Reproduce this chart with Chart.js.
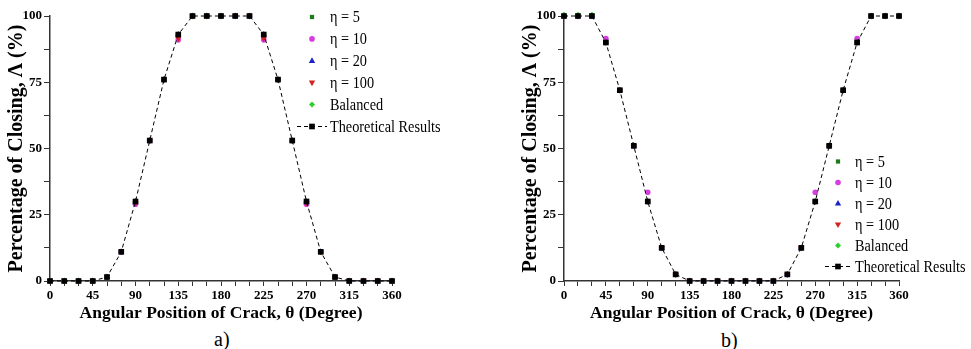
<!DOCTYPE html>
<html>
<head>
<meta charset="utf-8">
<script src="https://cdn.jsdelivr.net/npm/chart.js@4.4.1/dist/chart.umd.min.js"></script>
<style>
  html, body { margin: 0; padding: 0; background: #fff; }
  body { width: 971px; height: 349px; position: relative; overflow: hidden; }
  .panel { position: absolute; top: 0; height: 325px; }
  .cap { position: absolute; font-family: "Liberation Serif", "Times New Roman", serif; font-size: 20px; line-height: 20px; color: #000; }
</style>
</head>
<body>
<div class="panel" style="left:0;width:460px"><canvas id="chartA"></canvas></div>
<div class="panel" style="left:514px;width:457px"><canvas id="chartB"></canvas></div>
<div class="cap" style="left:214px;top:329px">a)</div>
<div class="cap" style="left:721px;top:330px">b)</div>
<script>
// crack angle, degrees
const angles = [0, 15, 30, 45, 60, 75, 90, 105, 120, 135, 150, 165, 180,
                195, 210, 225, 240, 255, 270, 285, 300, 315, 330, 345, 360];

// panel a)
const theoA     = [0, 0, 0, 0, 1.5, 11, 30, 53, 76, 93, 100, 100, 100, 100, 100, 93, 76, 53, 30, 11, 1.5, 0, 0, 0, 0];
const eta5A     = [0, 0, 0, 0, 1.5, 11, 30, 53, 76, 93, 100, 100, 100, 100, 100, 93, 76, 53, 30, 11, 1.5, 0, 0, 0, 0];
const eta10A    = [0, 0, 0, 0, 1.5, 11, 29, 53, 76, 91, 100, 100, 100, 100, 100, 91, 76, 53, 29, 11, 1.5, 0, 0, 0, 0];
const eta20A    = [0, 0, 0, 0, 1.5, 11, 30, 53, 76, 93, 100, 100, 100, 100, 100, 93, 76, 53, 30, 11, 1.5, 0, 0, 0, 0];
const eta100A   = [0, 0, 0, 0, 1.5, 11, 29.5, 53, 76, 91.5, 100, 100, 100, 100, 100, 91.5, 76, 53, 29.5, 11, 1.5, 0, 0, 0, 0];
const balancedA = [0, 0, 0, 0, 1.5, 11, 30, 53, 76, 93, 100, 100, 100, 100, 100, 93, 76, 53, 30, 11, 1.5, 0, 0, 0, 0];

// panel b)
const theoB     = [100, 100, 100, 90, 72, 51, 30, 12.5, 2.5, 0, 0, 0, 0, 0, 0, 0, 2.5, 12.5, 30, 51, 72, 90, 100, 100, 100];
const eta5B     = [100, 100, 100, 90, 72, 51, 30, 12.5, 2.5, 0, 0, 0, 0, 0, 0, 0, 2.5, 12.5, 30, 51, 72, 90, 100, 100, 100];
const eta10B    = [100, 100, 100, 91.5, 72, 51, 33.5, 12.5, 2.5, 0, 0, 0, 0, 0, 0, 0, 2.5, 12.5, 33.5, 51, 72, 91.5, 100, 100, 100];
const eta20B    = [100, 100, 100, 90, 72, 51, 30, 12.5, 2.5, 0, 0, 0, 0, 0, 0, 0, 2.5, 12.5, 30, 51, 72, 90, 100, 100, 100];
const eta100B   = [100, 100, 100, 90, 72, 51, 30, 12.5, 2.5, 0, 0, 0, 0, 0, 0, 0, 2.5, 12.5, 30, 51, 72, 90, 100, 100, 100];
const balancedB = [100.5, 100.5, 100.5, 90, 72, 51, 30, 12.5, 2.5, 0, 0, 0, 0, 0, 0, 0, 2.5, 12.5, 30, 51, 72, 90, 100, 100, 100];

const seriesNames = ['\u03b7 = 5', '\u03b7 = 10', '\u03b7 = 20', '\u03b7 = 100', 'Balanced', 'Theoretical Results'];

const serif = '"Liberation Serif", "Times New Roman", serif';

const pts = vals => angles.map((a, i) => ({ x: a, y: vals[i] }));

function buildDatasets(e5, e10, e20, e100, bal, theo) {
  return [
    { label: seriesNames[0], data: pts(e5), showLine: false, pointStyle: 'rect', pointRadius: 3,
      backgroundColor: '#1e7a1e', borderColor: '#1e7a1e', borderWidth: 0, order: 5, clip: false },
    { label: seriesNames[1], data: pts(e10), showLine: false, pointStyle: 'circle', pointRadius: 2.8,
      backgroundColor: '#d63ce0', borderColor: '#d63ce0', borderWidth: 0, order: 4, clip: false },
    { label: seriesNames[2], data: pts(e20), showLine: false, pointStyle: 'triangle', pointRadius: 3.5,
      backgroundColor: '#1a22c8', borderColor: '#1a22c8', borderWidth: 0, order: 3, clip: false },
    { label: seriesNames[3], data: pts(e100), showLine: false, pointStyle: 'triangle', pointRotation: 180, pointRadius: 3.5,
      backgroundColor: '#d42020', borderColor: '#d42020', borderWidth: 0, order: 2, clip: false },
    { label: seriesNames[4], data: pts(bal), showLine: false, pointStyle: 'rectRot', pointRadius: 3,
      backgroundColor: '#2ed02e', borderColor: '#2ed02e', borderWidth: 0, order: 1, clip: false },
    { label: seriesNames[5], data: pts(theo), showLine: true, pointStyle: 'rect', pointRadius: 4,
      backgroundColor: '#000', borderColor: '#000', borderWidth: 1, borderDash: [4, 3],
      pointBorderWidth: 0, tension: 0, order: 0, clip: false }
  ];
}

function marker(ctx, ds, x, y) {
  const r = ds.pointRadius;
  ctx.fillStyle = ds.backgroundColor;
  ctx.beginPath();
  if (ds.pointStyle === 'circle') {
    ctx.arc(x, y, r, 0, Math.PI * 2);
  } else if (ds.pointStyle === 'rect') {
    const s = r * Math.SQRT1_2;
    ctx.rect(x - s, y - s, s * 2, s * 2);
  } else if (ds.pointStyle === 'rectRot') {
    ctx.moveTo(x, y - r); ctx.lineTo(x + r, y); ctx.lineTo(x, y + r); ctx.lineTo(x - r, y);
  } else {
    const d = ds.pointRotation === 180 ? -1 : 1;
    ctx.moveTo(x, y - d * r);
    ctx.lineTo(x + r * 0.9, y + d * r * 0.6);
    ctx.lineTo(x - r * 0.9, y + d * r * 0.6);
  }
  ctx.closePath();
  ctx.fill();
}

// legend drawn inside the plot, like the original figure
const insideLegend = {
  id: 'insideLegend',
  afterDraw(chart, args, o) {
    const ctx = chart.ctx;
    ctx.save();
    chart.data.datasets.forEach((ds, i) => {
      const y = o.y + i * o.step;
      if (ds.showLine) {
        ctx.strokeStyle = '#000';
        ctx.lineWidth = 1;
        ctx.setLineDash([4, 3]);
        ctx.beginPath();
        ctx.moveTo(o.lineFrom, y);
        ctx.lineTo(o.textX - 3, y);
        ctx.stroke();
        ctx.setLineDash([]);
      }
      marker(ctx, ds, o.x, y);
      ctx.fillStyle = '#000';
      ctx.font = '17px ' + serif;
      ctx.textBaseline = 'middle';
      ctx.translate(o.textX, y);
      ctx.scale(0.84, 1);
      ctx.fillText(ds.label, 0, 1);
      ctx.setTransform(1, 0, 0, 1, 0, 0);
    });
    ctx.restore();
  }
};

function makeOptions(rightPad, legendOpts) {
  return {
    responsive: true,
    maintainAspectRatio: false,
    animation: false,
    layout: { padding: { left: 0, top: 16, right: rightPad, bottom: 0 } },
    plugins: {
      legend: { display: false },
      tooltip: { enabled: false },
      insideLegend: legendOpts
    },
    scales: {
      x: {
        type: 'linear', min: 0, max: 360,
        afterFit: s => { s.height = 44; },
        ticks: {
          stepSize: 15, autoSkip: false, maxRotation: 0, padding: 2, color: '#000',
          font: { family: serif, size: 13, weight: 'bold' },
          callback: v => (v % 45 === 0 ? v : '')
        },
        grid: { drawOnChartArea: false, drawTicks: true, tickLength: 5, color: '#333' },
        border: { display: true, color: '#333', width: 1.5 },
        title: {
          display: true, text: 'Angular Position of Crack, \u03b8 (Degree)', color: '#000',
          font: { family: serif, size: 17.5, weight: 'bold' }, padding: { top: 0, bottom: 1 }
        }
      },
      y: {
        min: 0, max: 100,
        afterFit: s => { s.width = 50; },
        ticks: {
          stepSize: 12.5, padding: 2, color: '#000',
          font: { family: serif, size: 13, weight: 'bold' },
          callback: v => (v % 25 === 0 ? v : '')
        },
        grid: { drawOnChartArea: false, drawTicks: true, tickLength: 6, color: '#333' },
        border: { display: true, color: '#333', width: 1.5 },
        title: {
          display: true, text: 'Percentage of Closing, \u039b (%)', color: '#000',
          font: { family: serif, size: 20, weight: 'bold' }, padding: { top: 5, bottom: 0 }
        }
      }
    }
  };
}

new Chart('chartA', {
  type: 'line',
  data: { datasets: buildDatasets(eta5A, eta10A, eta20A, eta100A, balancedA, theoA) },
  options: makeOptions(68, { x: 312, textX: 330, lineFrom: 297, y: 17, step: 21.9 }),
  plugins: [insideLegend]
});

new Chart('chartB', {
  type: 'line',
  data: { datasets: buildDatasets(eta5B, eta10B, eta20B, eta100B, balancedB, theoB) },
  options: makeOptions(72, { x: 324, textX: 341, lineFrom: 311, y: 161.5, step: 21 }),
  plugins: [insideLegend]
});
</script>
</body>
</html>
